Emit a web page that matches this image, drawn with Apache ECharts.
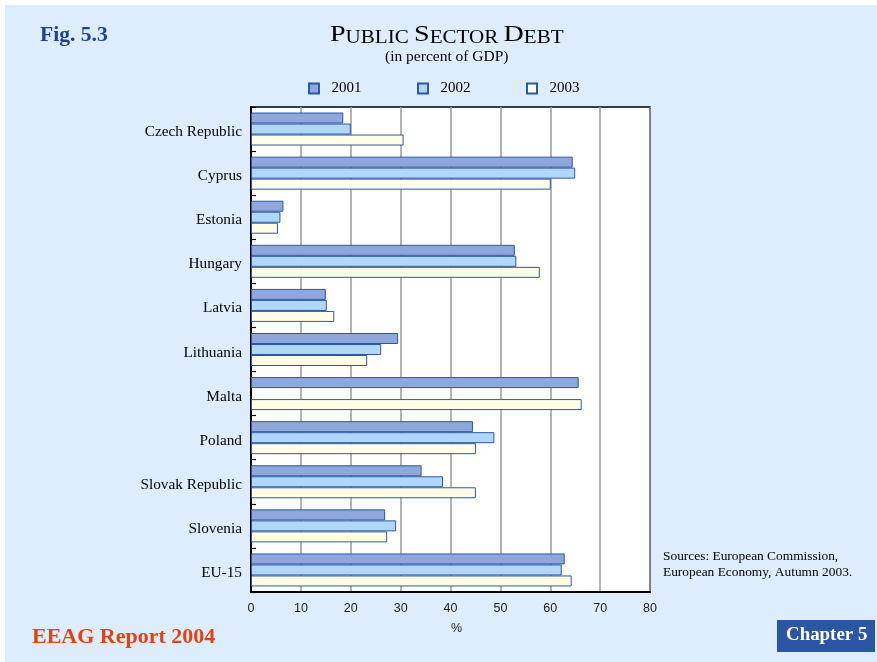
<!DOCTYPE html>
<html>
<head>
<meta charset="utf-8">
<script src="https://cdn.jsdelivr.net/npm/echarts@6/dist/echarts.min.js"></script>
<style>
html,body{margin:0;padding:0;background:#ffffff;}
#chart{width:877px;height:662px;}
</style>
</head>
<body>
<div id="chart"></div>
<script>
var categories = ['Czech Republic','Cyprus','Estonia','Hungary','Latvia','Lithuania','Malta','Poland','Slovak Republic','Slovenia','EU-15'];
var seriesNames = ['2001','2002','2003'];
var values2001 = [18.5, 64.5, 6.5, 52.9, 15.0, 29.5, 65.7, 44.5, 34.2, 26.9, 62.9];
var values2002 = [20.0, 65.0, 5.9, 53.2, 15.2, 26.1, null, 48.8, 38.5, 29.1, 62.3];
var values2003 = [30.6, 60.1, 5.4, 57.9, 16.7, 23.3, 66.3, 45.1, 45.1, 27.3, 64.3];
var xTicks = [0,10,20,30,40,50,60,70,80];

var colors = ['#8fa7da','#b1d7f8','#fffde6'];
var serif = '"Liberation Serif","Times New Roman",serif';
var sans = '"Liberation Sans",Arial,sans-serif';

var chart = echarts.init(document.getElementById('chart'), null, {renderer:'canvas'});
var data = [values2001, values2002, values2003];
var series = seriesNames.map(function(n,i){
  return {
    name:n, type:'bar', data:data[i],
    barWidth:11, barGap:'0%',
    itemStyle:{color:colors[i], borderColor:'#2b58a6', borderWidth:1},
    emphasis:{disabled:true}
  };
});

chart.setOption({
  backgroundColor:'#ffffff',
  animation:false,
  graphic:[
    {type:'rect', left:5, top:5, z:-10, shape:{width:872, height:657}, style:{fill:'#ddedfd'}},
    {type:'text', left:40, top:24, style:{text:'Fig. 5.3', font:'bold 21.6px '+serif, fill:'#1d3f9e'}},
    {type:'text', x:330, y:23, scaleX:1.17, style:{
      text:'{b|P}{s|UBLIC }{b|S}{s|ECTOR }{b|D}{s|EBT}',
      rich:{
        b:{fontFamily:serif, fontSize:24, fill:'#000', color:'#000', verticalAlign:'bottom'},
        s:{fontFamily:serif, fontSize:18, fill:'#000', color:'#000', verticalAlign:'bottom'}
      }
    }},
    {type:'text', left:385, top:49, style:{text:'(in percent of GDP)', font:'15.5px '+serif, fill:'#000'}},
    {type:'text', left:663, top:548, style:{text:'Sources: European Commission,\nEuropean Economy, Autumn 2003.', font:'13.4px '+serif, fill:'#000', lineHeight:16.3}},
    {type:'text', left:32, top:626, style:{text:'EEAG Report 2004', font:'bold 22px '+serif, fill:'#e2430f'}},
    {type:'rect', left:777, top:620, shape:{width:98, height:32}, style:{fill:'#2b56a3'}},
    {type:'text', left:786, top:626, style:{text:'Chapter 5', font:'bold 18.9px '+serif, fill:'#ffffff'}}
  ],
  legend:{
    data:seriesNames, left:303, top:76, itemWidth:10, itemHeight:10, itemGap:55.5,
    icon:'rect',
    formatter:function(n){ return '  '+n; },
    textStyle:{fontFamily:serif, fontSize:15, color:'#000'}
  },
  grid:{left:251, right:227, top:107, bottom:70, show:true, backgroundColor:'#ffffff', borderColor:'#000', borderWidth:1.5, containLabel:false},
  xAxis:{
    type:'value', min:0, max:80, interval:10,
    name:'%', nameLocation:'middle', nameGap:30,
    nameTextStyle:{fontFamily:sans, fontSize:12.5, color:'#222', padding:[0,0,0,12]},
    axisLine:{show:true, lineStyle:{color:'#000', width:2}},
    axisTick:{show:false},
    axisLabel:{fontFamily:sans, fontSize:12.5, color:'#222', margin:10,
      formatter:function(v){ return xTicks.indexOf(v)>=0 ? String(v) : ''; }},
    splitLine:{show:true, lineStyle:{color:'#9a9a9a', width:1.5}}
  },
  yAxis:{
    type:'category', data:categories, inverse:true,
    axisLine:{show:true, lineStyle:{color:'#000', width:2}},
    axisTick:{show:true, inside:true, length:5, lineStyle:{color:'#000', width:1.2}},
    axisLabel:{fontFamily:serif, fontSize:15.3, color:'#000', margin:9, verticalAlign:'top', lineHeight:6},
    splitLine:{show:false}
  },
  series:series
});
</script>
</body>
</html>
